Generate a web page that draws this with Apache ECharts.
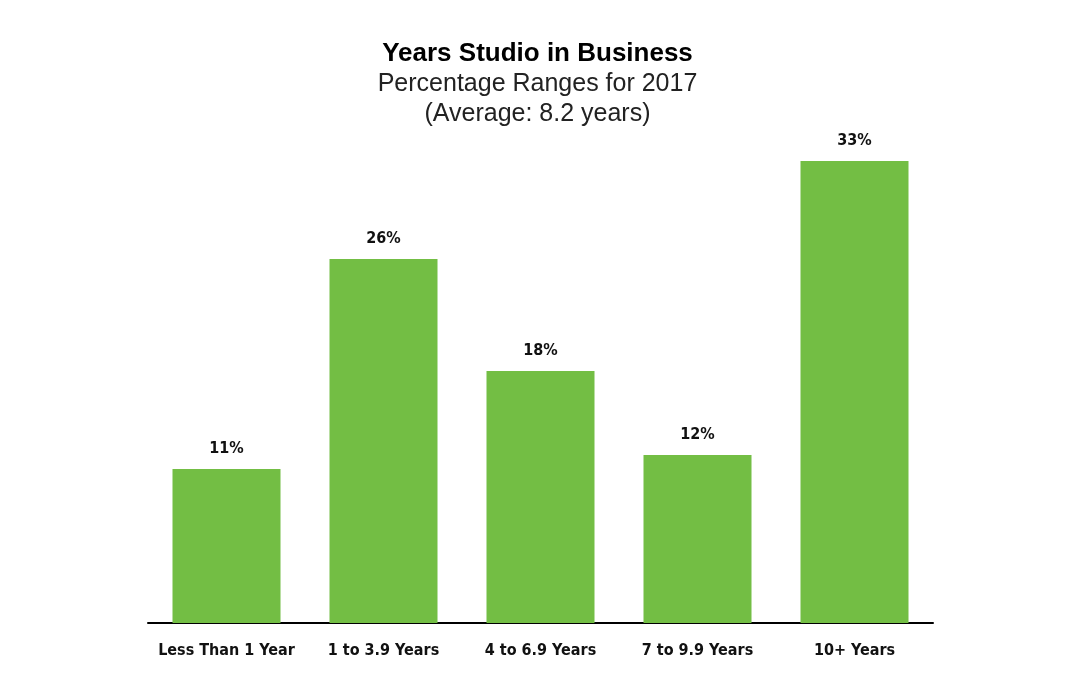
<!DOCTYPE html>
<html>
<head>
<meta charset="utf-8">
<script src="https://cdn.jsdelivr.net/npm/echarts@6/dist/echarts.min.js"></script>
<style>
html,body{margin:0;padding:0;background:#fff;}
#chart{width:1075px;height:692px;}
</style>
</head>
<body>
<div id="chart"></div>
<script>
const categories = ['Less Than 1 Year', '1 to 3.9 Years', '4 to 6.9 Years', '7 to 9.9 Years', '10+ Years'];
const values = [11, 26, 18, 12, 33];

const narrow = "'Liberation Sans Narrow', 'Arial Narrow', 'DejaVu Sans Condensed', sans-serif";
const chart = echarts.init(document.getElementById('chart'));
chart.setOption({
  backgroundColor: '#ffffff',
  animation: false,
  title: {
    text: 'Years Studio in Business',
    subtext: 'Percentage Ranges for 2017\n(Average: 8.2 years)',
    left: 'center',
    top: 34,
    itemGap: 0,
    textStyle: { fontFamily: "'Liberation Sans', Arial, sans-serif", fontSize: 26, fontWeight: 'bold', color: '#000', lineHeight: 30 },
    subtextStyle: { fontFamily: "'Liberation Sans', Arial, sans-serif", fontSize: 25, fontWeight: 'normal', color: '#222', lineHeight: 30 }
  },
  grid: { left: 148, right: 142, top: 133, bottom: 69, containLabel: false },
  xAxis: {
    type: 'category',
    data: categories,
    axisLine: { lineStyle: { color: '#000', width: 2 } },
    axisTick: { show: false },
    axisLabel: { color: '#111', fontFamily: narrow, fontWeight: 'bold', fontSize: 16, margin: 20, interval: 0 }
  },
  yAxis: {
    type: 'value',
    min: 0,
    max: 35,
    show: false,
    splitLine: { show: false }
  },
  series: [{
    type: 'bar',
    data: values,
    barWidth: 108,
    itemStyle: { color: '#73BE44' },
    label: {
      show: true,
      position: 'top',
      distance: 12,
      formatter: '{c}%',
      color: '#111',
      fontFamily: narrow,
      fontWeight: 'bold',
      fontSize: 16
    }
  }]
});
</script>
</body>
</html>
